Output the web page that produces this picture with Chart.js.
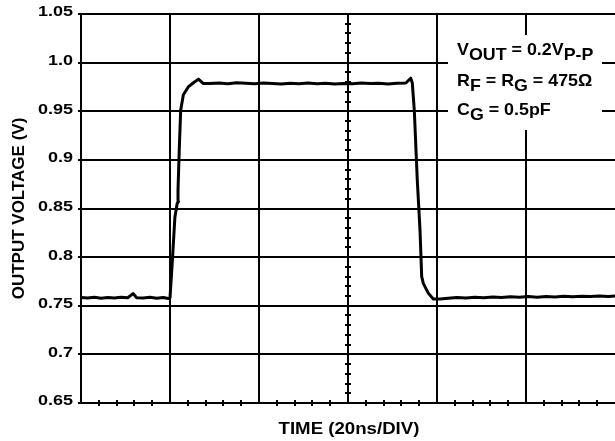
<!DOCTYPE html>
<html>
<head>
<meta charset="utf-8">
<script src="https://cdn.jsdelivr.net/npm/chart.js@4.4.1/dist/chart.umd.min.js"></script>
<style>
  html, body { margin: 0; padding: 0; background: #fff; }
</style>
</head>
<body>
<canvas id="scope" width="615" height="441"></canvas>
<script>
// trace, time in ns (20ns/div), volts
var timeNs = [
  0, 1.5, 3, 4.5, 6, 7.5, 9, 10.5, 11.7, 12.5, 14, 15.5, 17, 18.5, 19.6,
  20.0, 20.5, 21.1, 21.6, 21.9, 21.8, 22.1, 22.4, 23.0, 24.1, 25.2, 26.4, 27.5,
  29, 31, 33, 35, 37, 39, 41, 43, 45, 47, 49, 51, 53, 55, 57, 59, 61, 63, 65, 67, 69, 71, 73,
  74.09, 74.45, 74.9, 75.57, 76.18, 76.56, 76.92, 78.04, 79.17, 80.67,
  82.5, 84.5, 86.5, 88.5, 90.5, 92.5, 94.5, 96.5, 98.5, 100.5, 102.5, 104.5, 106.5, 108.5,
  110.5, 112.5, 114.5, 116.5, 118.5, 120
];
var outputV = [
  0.7585, 0.758, 0.7588, 0.7578, 0.7585, 0.758, 0.7587, 0.7582, 0.7625, 0.7583, 0.758, 0.7587, 0.7578, 0.7585, 0.7575,
  0.758, 0.794, 0.841, 0.855, 0.857, 0.869, 0.913, 0.951, 0.967, 0.975, 0.979, 0.983, 0.9785,
  0.9785, 0.979, 0.9783, 0.9792, 0.9787, 0.9782, 0.979, 0.9785, 0.978, 0.9787, 0.9782, 0.979, 0.9784, 0.9788, 0.978, 0.9786, 0.9783, 0.979, 0.9785, 0.9788, 0.978, 0.9787, 0.979,
  0.984, 0.979, 0.951, 0.879, 0.828, 0.780, 0.773, 0.763, 0.757, 0.757,
  0.7578, 0.7585, 0.758, 0.7588, 0.7583, 0.759, 0.7585, 0.7592, 0.7587, 0.7594, 0.7588, 0.7595, 0.759, 0.7597,
  0.7592, 0.7598, 0.7594, 0.76, 0.7595, 0.76
];
var yTickValues = [0.65, 0.7, 0.75, 0.8, 0.85, 0.9, 0.95, 1.0, 1.05];
var yTickLabels = ['0.65', '0.7', '0.75', '0.8', '0.85', '0.9', '0.95', '1.0', '1.05'];
var xDivisions = [0, 20, 40, 60, 80, 100, 120];
var xTitle = 'TIME (20ns/DIV)';
var yTitle = 'OUTPUT VOLTAGE (V)';
var noteLines = [
  [['V', 0], ['OUT', 1], [' = 0.2V', 0], ['P-P', 1]],
  [['R', 0], ['F', 1], [' = R', 0], ['G', 1], [' = 475\u03A9', 0]],
  [['C', 0], ['G', 1], [' = 0.5pF', 0]]
];

var FONT = '"Liberation Sans", Arial, sans-serif';

// the original lettering is a wide helvetica, so squash/stretch it by hand
function stretchText(ctx, text, x, y, sx, align) {
  ctx.save();
  ctx.translate(x, y);
  ctx.scale(sx, 1);
  ctx.textAlign = align;
  ctx.fillText(text, 0, 0);
  ctx.restore();
}

// minor ticks on bottom axis + centre line, and the condition box
var scopeMarks = {
  id: 'scopeMarks',
  beforeDatasetsDraw: function(chart) {
    var ctx = chart.ctx, xs = chart.scales.x, ys = chart.scales.y, area = chart.chartArea;
    ctx.save();
    ctx.strokeStyle = '#000';
    ctx.lineWidth = 2;
    ctx.beginPath();
    for (var t = 4; t < 120; t += 4) {
      if (t % 20 === 0) continue;
      var px = Math.round(xs.getPixelForValue(t));
      ctx.moveTo(px, area.bottom - 3);
      ctx.lineTo(px, area.bottom + 3);
    }
    var cx = Math.round(xs.getPixelForValue(60));
    for (var i = 66; i < 105; i++) {
      if (i % 5 === 0) continue;
      var py = Math.round(ys.getPixelForValue(i / 100));
      ctx.moveTo(cx - 3, py);
      ctx.lineTo(cx + 3, py);
    }
    ctx.stroke();

    ctx.fillStyle = '#fff';
    ctx.fillRect(448, 35, 154, 95);
    ctx.fillStyle = '#000';
    ctx.font = 'bold 17px ' + FONT;
    ctx.textBaseline = 'alphabetic';
    var baselines = [55, 86, 114.5];
    noteLines.forEach(function(line, k) {
      var x = 457;
      line.forEach(function(part) {
        stretchText(ctx, part[0], x, baselines[k] + (part[1] ? 5 : 0), 1.05, 'left');
        x += ctx.measureText(part[0]).width * 1.05;
      });
    });
    ctx.restore();
  },
  afterDraw: function(chart) {
    var ctx = chart.ctx, ys = chart.scales.y, area = chart.chartArea;
    ctx.save();
    ctx.fillStyle = '#000';
    ctx.textBaseline = 'alphabetic';
    ctx.font = 'bold 15px ' + FONT;
    yTickValues.forEach(function(v, i) {
      stretchText(ctx, yTickLabels[i], 73, ys.getPixelForValue(v) + 2.4, 1.2, 'right');
    });
    ctx.font = 'bold 16.5px ' + FONT;
    stretchText(ctx, xTitle, (area.left + area.right) / 2 + 1, 434.4, 1.13, 'center');
    ctx.font = 'bold 17px ' + FONT;
    ctx.translate(23.6, (area.top + area.bottom) / 2);
    ctx.rotate(-Math.PI / 2);
    stretchText(ctx, yTitle, 0, 0, 1.0, 'center');
    ctx.restore();
  }
};

var points = timeNs.map(function(t, i) { return { x: t, y: outputV[i] }; });

new Chart(document.getElementById('scope'), {
  type: 'line',
  data: {
    datasets: [{
      data: points,
      borderColor: '#000',
      borderWidth: 3,
      pointRadius: 0,
      tension: 0,
      fill: false,
      borderJoinStyle: 'round'
    }]
  },
  options: {
    responsive: false,
    animation: false,
    layout: { padding: { top: 14, right: 0, bottom: 0, left: 0 } },
    plugins: { legend: { display: false }, tooltip: { enabled: false } },
    scales: {
      x: {
        type: 'linear',
        min: 0,
        max: 120,
        afterBuildTicks: function(scale) {
          scale.ticks = xDivisions.map(function(v) { return { value: v }; });
        },
        afterFit: function(scale) { scale.height = 38; },
        ticks: { display: false },
        grid: {
          drawTicks: false,
          lineWidth: 2,
          color: function(c) { return (c.tick && c.tick.value === 120) ? 'rgba(0,0,0,0)' : '#000'; }
        },
        border: { display: true, color: '#000', width: 2 },
        title: { display: false }
      },
      y: {
        min: 0.65,
        max: 1.05,
        afterBuildTicks: function(scale) {
          scale.ticks = yTickValues.map(function(v) { return { value: v }; });
        },
        afterFit: function(scale) { scale.width = 81; },
        ticks: { display: false },
        grid: { lineWidth: 2, color: '#000', tickLength: 3 },
        border: { display: true, color: '#000', width: 2 },
        title: { display: false }
      }
    }
  },
  plugins: [scopeMarks]
});
</script>
</body>
</html>
